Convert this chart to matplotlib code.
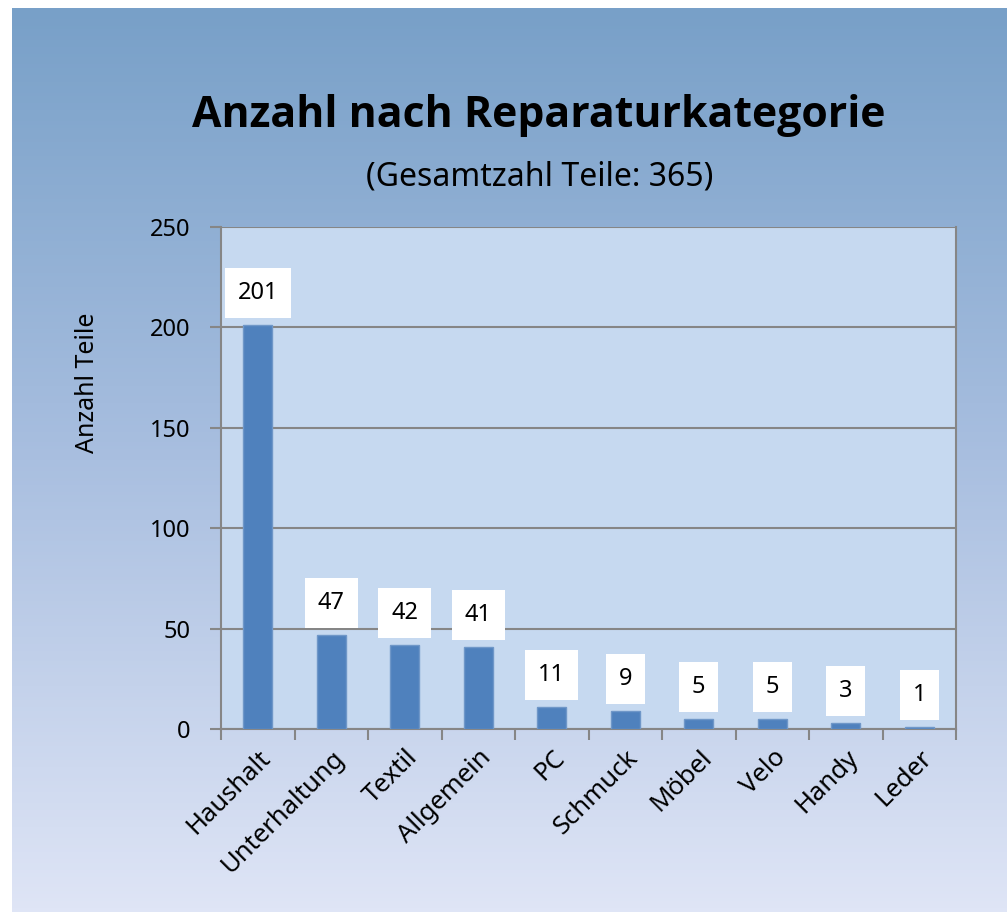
import numpy as np
import matplotlib
matplotlib.use("Agg")
import matplotlib.pyplot as plt
from matplotlib.colors import LinearSegmentedColormap

plt.rcParams['font.family'] = ['Noto Sans', 'DejaVu Sans']

kategorien = ["Haushalt", "Unterhaltung", "Textil", "Allgemein", "PC",
              "Schmuck", "Möbel", "Velo", "Handy", "Leder"]
anzahl = [201, 47, 42, 41, 11, 9, 5, 5, 3, 1]
yticks = [0, 50, 100, 150, 200, 250]

W, H = 1007, 917
fig = plt.figure(figsize=(W / 100, H / 100), dpi=100)
fig.patch.set_facecolor('white')

# gradient background panel
bg = fig.add_axes([12 / W, 1 - 912 / H, (W - 12) / W, (912 - 8) / H])
cmap = LinearSegmentedColormap.from_list('bg', ['#78a0c8', '#a9bfe0', '#dfe5f6'])
grad = np.linspace(0, 1, 256).reshape(-1, 1)
bg.imshow(grad, aspect='auto', cmap=cmap, extent=[0, 1, 0, 1], origin='upper')
bg.set_axis_off()

ax = fig.add_axes([221 / W, 1 - 729 / H, (956 - 221) / W, (729 - 227) / H])
ax.set_facecolor('#c6d9f0')

x = np.arange(len(kategorien))
ax.bar(x, anzahl, width=0.4, color='#4f81bd', edgecolor='#6f97c8',
       linewidth=1, zorder=3)

ax.set_xlim(-0.5, len(kategorien) - 0.5)
ax.set_ylim(0, 250)
ax.set_yticks(yticks)
ax.set_yticklabels([str(t) for t in yticks], fontsize=17)
ax.yaxis.grid(True, color='#868686', linewidth=1.5, zorder=1)
ax.set_axisbelow(True)

# category ticks sit between the bars
ax.set_xticks(np.arange(-0.5, len(kategorien)))
ax.set_xticklabels([])
ax.tick_params(axis='x', length=8, width=1.5, color='#868686', direction='out')
ax.tick_params(axis='y', length=8, width=1.5, color='#868686', direction='out', pad=14)

for name, xi in zip(kategorien, x):
    ax.annotate(name, xy=(xi + 0.13, 0), xytext=(0, -18), textcoords='offset points',
                rotation=45, rotation_mode='anchor', ha='right', va='center',
                fontsize=18.5, annotation_clip=False)

for sp in ax.spines.values():
    sp.set_color('#868686')
    sp.set_linewidth(1.5)
ax.spines['top'].set_visible(False)

for xi, v in zip(x, anzahl):
    ax.annotate(str(v), xy=(xi, v), xytext=(0, 23), textcoords='offset points',
                ha='center', va='center', fontsize=17, zorder=5,
                bbox=dict(boxstyle='square,pad=0.55', facecolor='white', edgecolor='none'))

ax.set_ylabel('Anzahl Teile', fontsize=18)
ax.yaxis.set_label_coords((100 - 221) / 735, (729 - 383) / 502)

title = fig.text(539 / W, 1 - 127 / H, 'Anzahl nach Reparaturkategorie', ha='center',
                 va='baseline', fontsize=30, fontweight='bold', family='Open Sans')
sub = fig.text(540 / W, 1 - 186 / H, '(Gesamtzahl Teile: 365)', ha='center',
               va='baseline', fontsize=21, fontweight='light')

# fit title widths to the reference
r = fig.canvas.get_renderer()
for t, target in ((title, 692), (sub, 348)):
    w = t.get_window_extent(r).width
    t.set_fontsize(t.get_fontsize() * target / w)

fig.savefig('out.png', dpi=100)
